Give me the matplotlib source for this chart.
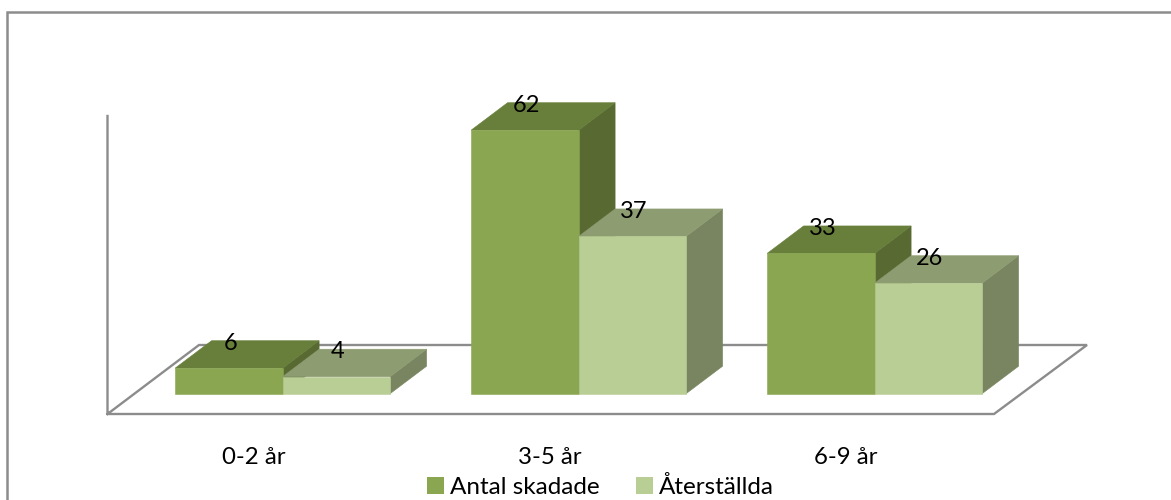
# Grouped 3D-look column chart, drawn on plain 2D axes
import matplotlib
matplotlib.use('Agg')
import matplotlib.pyplot as plt
from matplotlib.patches import Patch
from matplotlib.transforms import Affine2D

# -- Data --------------------------------------------------------------------
categories = ['0-2 år', '3-5 år', '6-9 år']
antal_skadade = [6, 62, 33]
aterstallda = [4, 37, 26]
series_names = ['Antal skadade', 'Återställda']

# -- Layout (pixels) ---------------------------------------------------------
W, H = 1171, 500
GROUP_X0, GROUP_STEP = 282.6, 296
BASE_Y, PX_PER_UNIT = 393.7, 4.25
BAR_PX, DEPTH_X, DEPTH_Y = 107.5, 36.5, 27.5

plt.rcParams['font.family'] = ['Lato', 'DejaVu Sans']

fig = plt.figure(figsize=(W / 100, H / 100), dpi=100)
ax = fig.add_axes([0, 0, 1, 1])
ax.set_xlim(-GROUP_X0 / GROUP_STEP, (W - GROUP_X0) / GROUP_STEP)
ax.set_ylim((BASE_Y - H) / PX_PER_UNIT, BASE_Y / PX_PER_UNIT)
ax.axis('off')

# pixel coordinates with the origin top left, for the chart furniture
pix = Affine2D().scale(1, -1).translate(0, H)

GREY = '#8c8c8c'

# Outer frame, only left and top show in the picture
ax.plot([6.5, 6.5, W + 5], [H + 5, 11.5, 11.5], transform=pix, color=GREY,
        lw=1.8, solid_joinstyle='miter', zorder=1)

# Wall axis and floor
ax.plot([107.5, 107.5, 994, 1087, 199, 107.5],
        [116, 414, 414, 345, 345, 414],
        transform=pix, color=GREY, lw=1.7, zorder=1, solid_joinstyle='miter')

bar_w = BAR_PX / GROUP_STEP
dx = DEPTH_X / GROUP_STEP
dy = DEPTH_Y / PX_PER_UNIT


def draw_bar(x_left, value, front, top, side, zorder):
    """ Draw one column: front through ax.bar, then the top and side faces. """
    x_right = x_left + bar_w
    ax.fill([x_right, x_right + dx, x_right + dx, x_right],
            [0, dy, value + dy, value],
            facecolor=side, edgecolor=side, lw=0.4, zorder=zorder)
    ax.fill([x_left, x_left + dx, x_right + dx, x_right],
            [value, value + dy, value + dy, value],
            facecolor=top, edgecolor=top, lw=0.4, zorder=zorder)
    ax.bar(x_left, value, width=bar_w, align='edge', color=front,
           edgecolor=front, lw=0.4, zorder=zorder)
    # labels sit on the back edge of the top face
    ax.text(x_left + (bar_w + 3 / GROUP_STEP) / 2, value + dy - 0.6, str(value),
            ha='center', va='center', fontsize=17, color='black', zorder=10)


for i, (v1, v2) in enumerate(zip(antal_skadade, aterstallda)):
    draw_bar(i - bar_w, v1, '#8aa650', '#687f3b', '#586a32', 3 + 2 * i)
    draw_bar(i, v2, '#b9ce95', '#8e9c72', '#788560', 4 + 2 * i)
    ax.text(i - 28.5 / GROUP_STEP, (BASE_Y - 458) / PX_PER_UNIT, categories[i],
            ha='center', va='center', fontsize=17.3, color='black')

# Legend
handles = [Patch(facecolor='#8aa650', label=series_names[0]),
           Patch(facecolor='#b9ce95', label=series_names[1])]
ax.legend(handles=handles, loc='center', bbox_to_anchor=(600.5 / W, 1 - 487 / H),
          ncol=2, frameon=False, fontsize=17.5, handlelength=0.68,
          handleheight=0.68, handletextpad=0.25, columnspacing=1.5,
          borderpad=0, borderaxespad=0)

fig.savefig('out.png', dpi=100)
